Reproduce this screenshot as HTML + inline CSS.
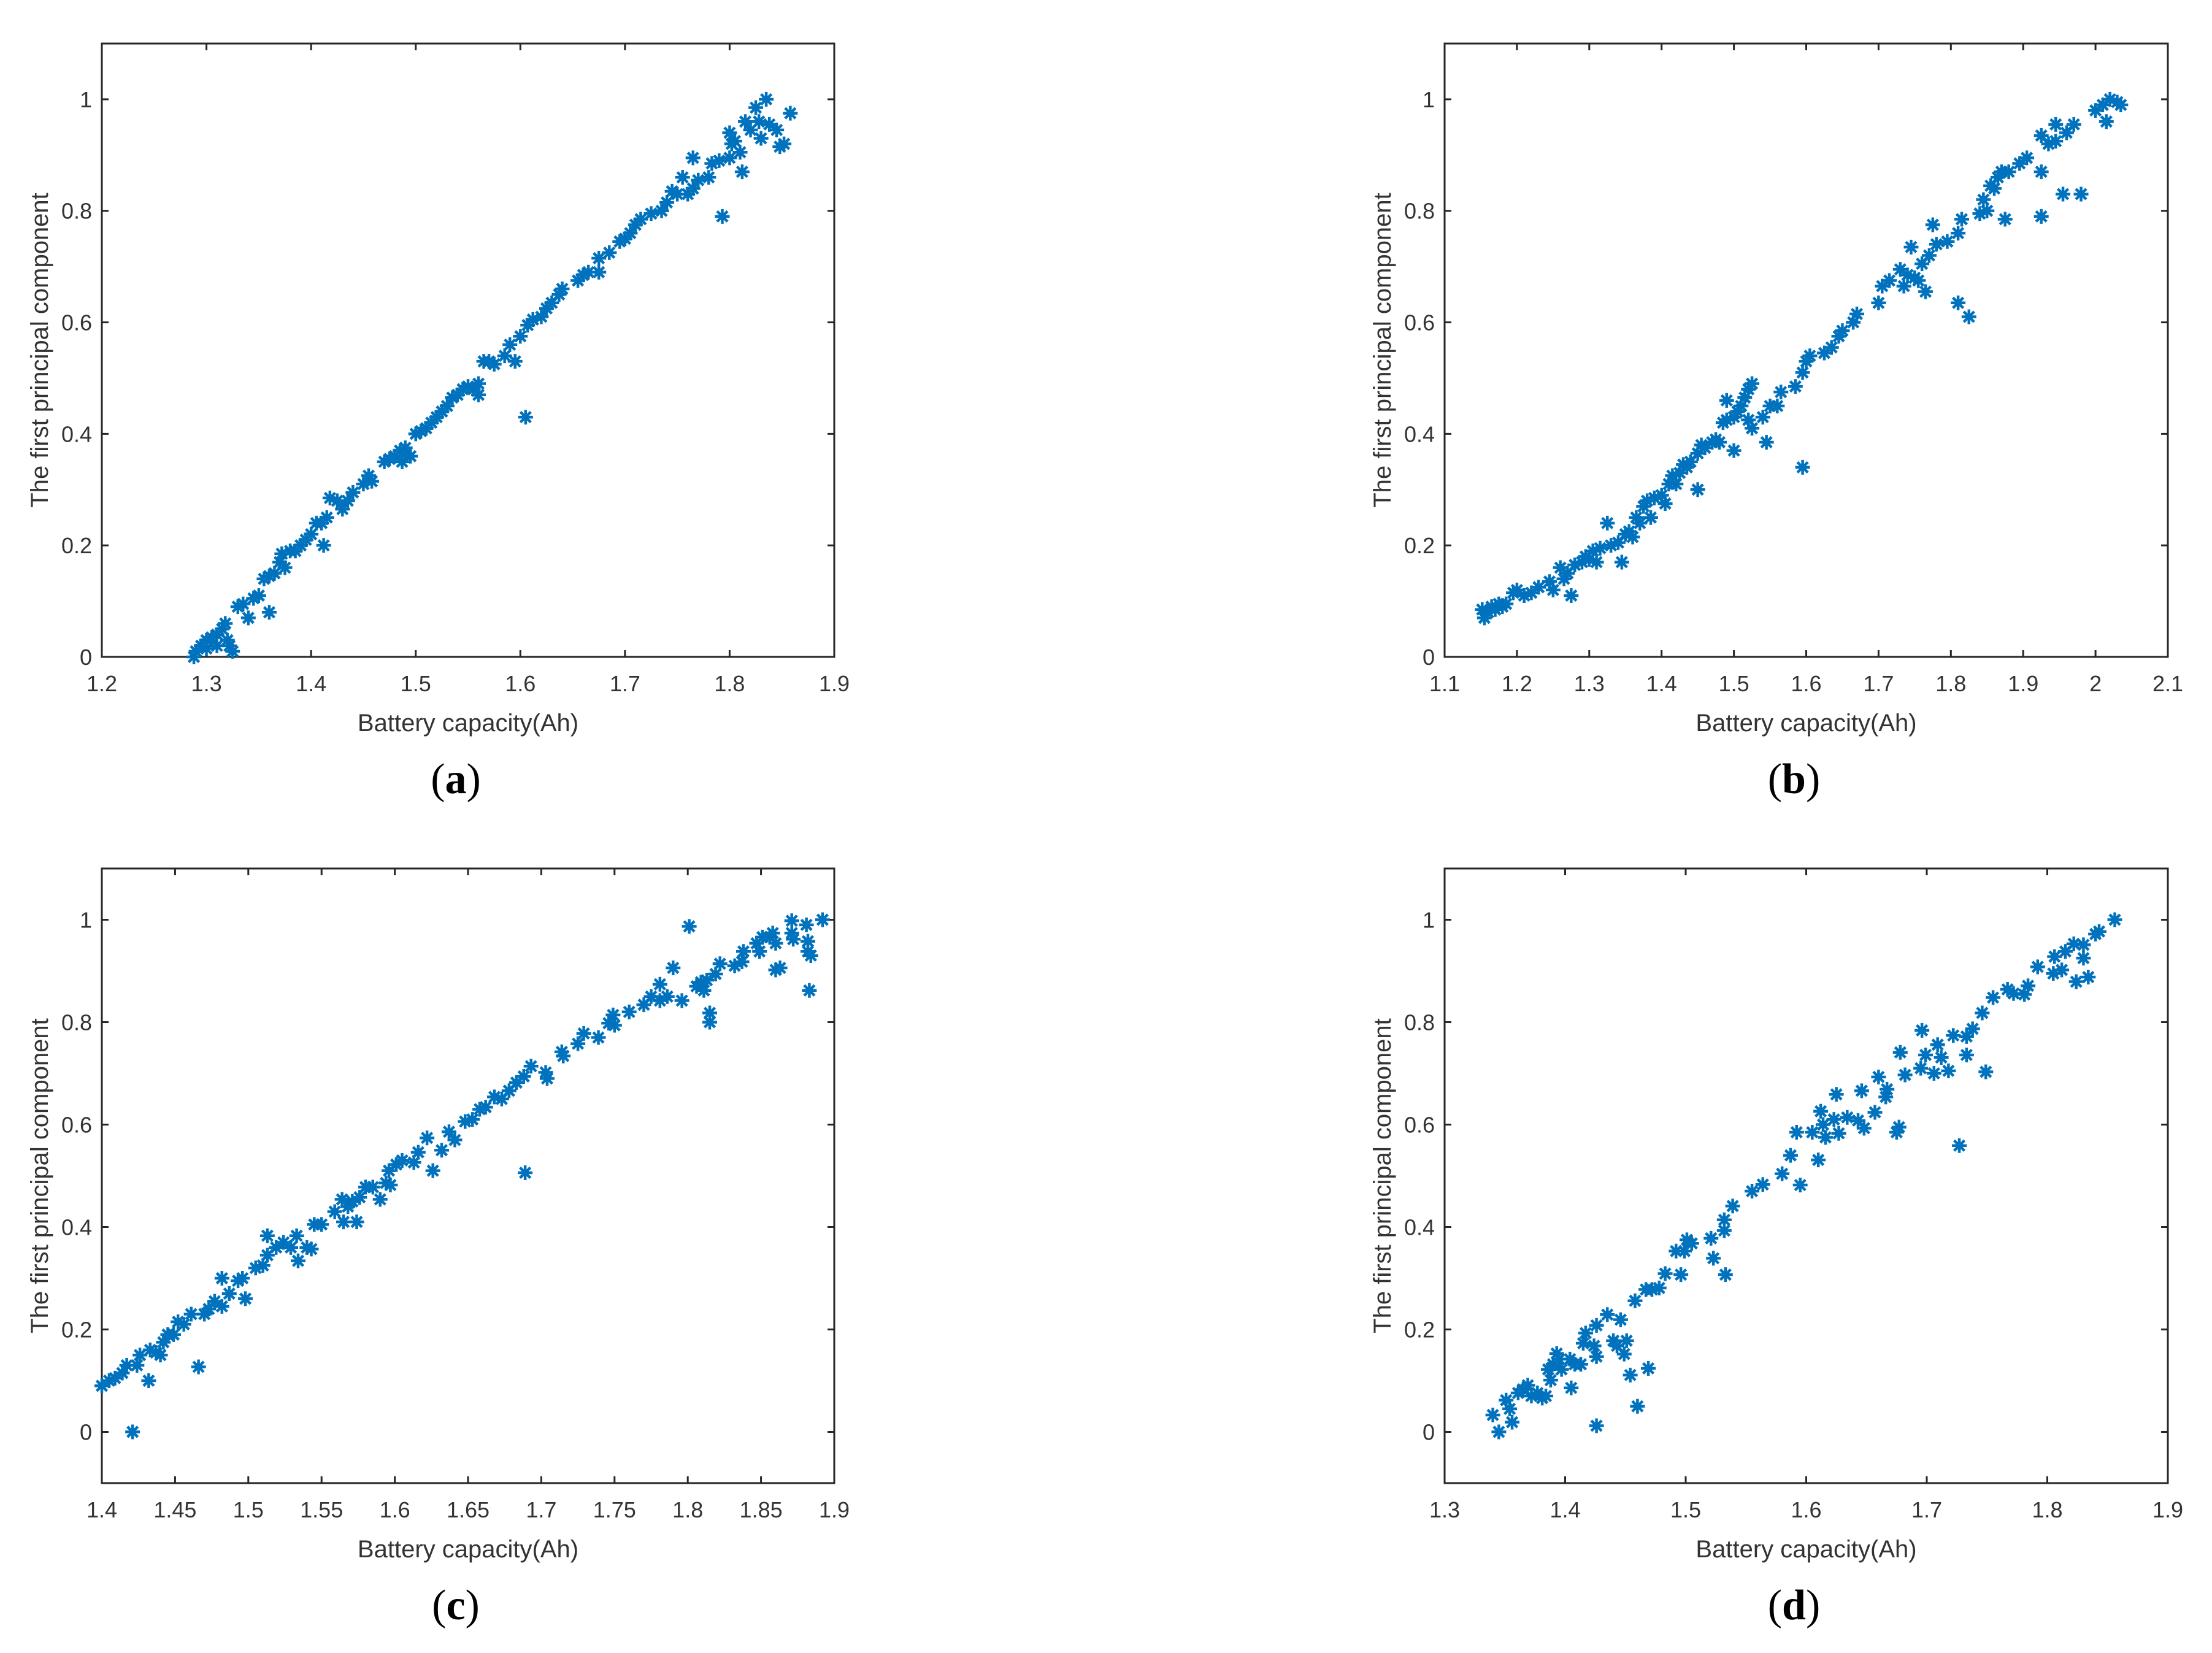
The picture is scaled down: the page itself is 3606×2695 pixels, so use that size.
<!DOCTYPE html>
<html><head><meta charset="utf-8"><style>
html,body{margin:0;padding:0;background:#fff;}
svg{display:block;}
</style></head><body>
<svg id="fig" xmlns="http://www.w3.org/2000/svg" width="3606" height="2695" viewBox="0 0 3606 2695"></svg>
<script>
// ---- panel (a) data ----
const aX=[1.288,1.29,1.295,1.30,1.305,1.31,1.315,1.318,1.32,1.322,1.325,1.31,1.30,1.33,1.335,1.34,1.345,1.35,1.355,1.36,1.36,1.365,1.37,1.372,1.375,1.38,1.385,1.39,1.395,1.40,1.405,1.41,1.412,1.415,1.418,1.425,1.43,1.435,1.44,1.45,1.455,1.458,1.47,1.475,1.48,1.485,1.487,1.49,1.495,1.50,1.505,1.51,1.515,1.52,1.525,1.53,1.535,1.54,1.545,1.55,1.555,1.56,1.56,1.565,1.57,1.575,1.585,1.59,1.595,1.60,1.605,1.607,1.612,1.62,1.625,1.63,1.637,1.64,1.655,1.66,1.665,1.675,1.675,1.685,1.695,1.70,1.705,1.71,1.715,1.725,1.735,1.74,1.745,1.75,1.755,1.76,1.765,1.765,1.77,1.78,1.783,1.79,1.793,1.80,1.80,1.802,1.805,1.81,1.812,1.815,1.82,1.825,1.828,1.83,1.835,1.838,1.845,1.848,1.852,1.858];
const aY=[0.00,0.01,0.02,0.03,0.035,0.04,0.05,0.06,0.03,0.02,0.01,0.02,0.015,0.09,0.095,0.07,0.105,0.11,0.14,0.145,0.08,0.15,0.17,0.185,0.16,0.19,0.19,0.2,0.21,0.22,0.24,0.24,0.2,0.25,0.285,0.28,0.265,0.28,0.295,0.31,0.325,0.315,0.35,0.355,0.36,0.37,0.35,0.375,0.36,0.40,0.405,0.41,0.42,0.43,0.44,0.45,0.465,0.47,0.48,0.485,0.48,0.49,0.47,0.53,0.53,0.525,0.54,0.56,0.53,0.575,0.43,0.595,0.605,0.61,0.625,0.635,0.65,0.66,0.675,0.685,0.69,0.715,0.69,0.725,0.745,0.75,0.76,0.775,0.785,0.795,0.80,0.815,0.835,0.83,0.86,0.83,0.84,0.895,0.855,0.86,0.885,0.89,0.79,0.895,0.94,0.92,0.925,0.905,0.87,0.96,0.945,0.985,0.96,0.93,1.0,0.955,0.945,0.915,0.92,0.975];
// ---- panel (b) data ----
const bX=[1.152,1.155,1.16,1.165,1.17,1.175,1.18,1.185,1.195,1.20,1.21,1.22,1.23,1.245,1.25,1.26,1.265,1.27,1.275,1.28,1.29,1.295,1.30,1.305,1.31,1.315,1.325,1.33,1.34,1.345,1.35,1.355,1.36,1.365,1.37,1.375,1.38,1.385,1.39,1.40,1.405,1.41,1.415,1.42,1.425,1.43,1.435,1.44,1.45,1.45,1.455,1.46,1.47,1.475,1.48,1.485,1.49,1.49,1.50,1.505,1.50,1.51,1.515,1.52,1.525,1.52,1.525,1.54,1.545,1.55,1.56,1.565,1.585,1.595,1.595,1.60,1.605,1.625,1.635,1.645,1.65,1.665,1.67,1.70,1.705,1.715,1.73,1.735,1.74,1.745,1.75,1.755,1.76,1.765,1.77,1.775,1.78,1.795,1.81,1.81,1.815,1.825,1.84,1.845,1.85,1.855,1.86,1.865,1.87,1.875,1.88,1.895,1.905,1.925,1.925,1.925,1.935,1.945,1.945,1.955,1.96,1.97,1.98,2.00,2.01,2.015,2.02,2.03,2.035];
const bY=[0.085,0.07,0.08,0.09,0.085,0.095,0.09,0.095,0.115,0.12,0.11,0.115,0.125,0.135,0.12,0.16,0.14,0.15,0.11,0.165,0.17,0.18,0.175,0.19,0.17,0.195,0.24,0.20,0.205,0.17,0.22,0.225,0.215,0.25,0.24,0.27,0.28,0.25,0.285,0.29,0.275,0.31,0.325,0.31,0.33,0.345,0.34,0.35,0.365,0.30,0.38,0.375,0.385,0.39,0.385,0.42,0.425,0.46,0.43,0.44,0.37,0.45,0.465,0.48,0.49,0.425,0.41,0.43,0.385,0.45,0.45,0.475,0.485,0.51,0.34,0.53,0.54,0.545,0.555,0.575,0.585,0.60,0.615,0.635,0.665,0.675,0.695,0.665,0.685,0.735,0.68,0.675,0.705,0.655,0.72,0.775,0.74,0.745,0.635,0.76,0.785,0.61,0.795,0.82,0.80,0.845,0.84,0.86,0.87,0.785,0.87,0.885,0.895,0.935,0.87,0.79,0.92,0.925,0.955,0.83,0.94,0.955,0.83,0.98,0.99,0.96,1.0,0.995,0.99];
// ---- panel (c) data ----
const cX=[1.40,1.405,1.409,1.414,1.417,1.424,1.426,1.421,1.432,1.433,1.437,1.44,1.442,1.445,1.449,1.452,1.456,1.461,1.466,1.47,1.473,1.477,1.482,1.482,1.487,1.493,1.496,1.498,1.505,1.51,1.513,1.513,1.519,1.524,1.529,1.533,1.534,1.54,1.543,1.545,1.55,1.559,1.564,1.565,1.568,1.571,1.574,1.576,1.58,1.585,1.59,1.594,1.596,1.597,1.601,1.605,1.613,1.616,1.622,1.626,1.632,1.637,1.641,1.648,1.653,1.658,1.662,1.668,1.673,1.678,1.683,1.688,1.689,1.693,1.703,1.704,1.714,1.715,1.725,1.729,1.739,1.746,1.749,1.75,1.76,1.77,1.775,1.781,1.781,1.786,1.79,1.796,1.801,1.806,1.809,1.811,1.813,1.815,1.815,1.819,1.822,1.832,1.837,1.838,1.847,1.849,1.851,1.856,1.858,1.86,1.863,1.86,1.871,1.871,1.872,1.881,1.882,1.882,1.883,1.884,1.892];
const cY=[0.09,0.10,0.105,0.115,0.13,0.13,0.15,0.0,0.10,0.16,0.155,0.15,0.175,0.19,0.19,0.215,0.21,0.23,0.127,0.23,0.24,0.255,0.245,0.30,0.27,0.295,0.30,0.26,0.32,0.325,0.345,0.383,0.36,0.37,0.36,0.383,0.334,0.36,0.357,0.405,0.405,0.43,0.454,0.41,0.44,0.45,0.41,0.458,0.478,0.478,0.454,0.486,0.51,0.482,0.522,0.53,0.526,0.546,0.574,0.51,0.55,0.586,0.57,0.606,0.61,0.63,0.634,0.654,0.65,0.666,0.682,0.694,0.506,0.714,0.702,0.69,0.742,0.734,0.758,0.778,0.77,0.798,0.814,0.794,0.82,0.834,0.85,0.874,0.842,0.85,0.906,0.842,0.987,0.87,0.878,0.862,0.882,0.818,0.80,0.894,0.914,0.91,0.918,0.938,0.954,0.938,0.966,0.966,0.974,0.902,0.906,0.954,0.974,0.998,0.962,0.99,0.958,0.938,0.862,0.93,1.0];
// ---- panel (d) data ----
const dX=[1.340,1.345,1.351,1.354,1.356,1.361,1.365,1.369,1.372,1.377,1.381,1.384,1.388,1.386,1.390,1.393,1.395,1.397,1.404,1.405,1.408,1.413,1.415,1.417,1.424,1.426,1.426,1.426,1.435,1.440,1.443,1.446,1.449,1.451,1.454,1.460,1.469,1.458,1.467,1.472,1.478,1.483,1.496,1.492,1.499,1.501,1.505,1.521,1.523,1.533,1.532,1.532,1.539,1.555,1.564,1.580,1.587,1.595,1.592,1.605,1.610,1.612,1.614,1.616,1.623,1.625,1.627,1.634,1.643,1.646,1.648,1.657,1.660,1.666,1.667,1.675,1.677,1.678,1.682,1.695,1.696,1.699,1.706,1.709,1.712,1.718,1.722,1.727,1.733,1.733,1.738,1.746,1.749,1.755,1.767,1.772,1.781,1.784,1.792,1.805,1.806,1.812,1.815,1.822,1.824,1.830,1.830,1.834,1.840,1.843,1.856];
const dY=[0.033,0.0,0.062,0.045,0.019,0.076,0.083,0.091,0.070,0.076,0.066,0.070,0.101,0.122,0.132,0.153,0.142,0.122,0.142,0.086,0.132,0.132,0.173,0.193,0.168,0.012,0.208,0.147,0.229,0.178,0.168,0.219,0.152,0.178,0.111,0.050,0.124,0.256,0.278,0.278,0.281,0.309,0.307,0.353,0.353,0.375,0.368,0.378,0.339,0.307,0.393,0.414,0.441,0.470,0.483,0.504,0.540,0.482,0.585,0.585,0.531,0.626,0.600,0.575,0.610,0.659,0.583,0.614,0.608,0.666,0.593,0.624,0.693,0.654,0.669,0.585,0.595,0.741,0.697,0.710,0.784,0.736,0.700,0.756,0.731,0.705,0.774,0.559,0.772,0.736,0.787,0.818,0.703,0.848,0.864,0.856,0.854,0.871,0.908,0.895,0.928,0.902,0.938,0.953,0.879,0.951,0.925,0.888,0.972,0.977,1.0];
// ---- axis ticks ----
const aXTicks=[1.2,1.3,1.4,1.5,1.6,1.7,1.8,1.9];
const aXLabels=["1.2","1.3","1.4","1.5","1.6","1.7","1.8","1.9"];
const bXTicks=[1.1,1.2,1.3,1.4,1.5,1.6,1.7,1.8,1.9,2.0,2.1];
const bXLabels=["1.1","1.2","1.3","1.4","1.5","1.6","1.7","1.8","1.9","2","2.1"];
const cXTicks=[1.4,1.45,1.5,1.55,1.6,1.65,1.7,1.75,1.8,1.85,1.9];
const cXLabels=["1.4","1.45","1.5","1.55","1.6","1.65","1.7","1.75","1.8","1.85","1.9"];
const dXTicks=[1.3,1.4,1.5,1.6,1.7,1.8,1.9];
const dXLabels=["1.3","1.4","1.5","1.6","1.7","1.8","1.9"];
const yTicks=[0,0.2,0.4,0.6,0.8,1];
const yLabels=["0","0.2","0.4","0.6","0.8","1"];

const NS="http://www.w3.org/2000/svg";
const svg=document.getElementById('fig');
function mk(tag,attrs,parent){const e=document.createElementNS(NS,tag);for(const k in attrs)e.setAttribute(k,attrs[k]);(parent||svg).appendChild(e);return e;}

function panel(id,L,R,T,B,xmin,xmax,ymin,ymax,xs,ys,xt,xl,letter){
  const g=mk('g',{});
  
  
  const sx=v=>L+(v-xmin)/(xmax-xmin)*(R-L);
  const sy=v=>B-(v-ymin)/(ymax-ymin)*(B-T);
  const frame=mk('rect',{x:L,y:T,width:R-L,height:B-T,fill:'none',stroke:'#262626','stroke-width':3},g);
  
  
  xt.forEach((v,i)=>{
    const x=sx(v);
    mk('line',{x1:x,y1:B,x2:x,y2:B-11,stroke:'#262626','stroke-width':3},g);
    mk('line',{x1:x,y1:T,x2:x,y2:T+11,stroke:'#262626','stroke-width':3},g);
    const t=mk('text',{x:x,y:B+56,'text-anchor':'middle','font-family':'Liberation Sans, sans-serif','font-size':36,fill:'#333'},g);
    t.textContent=xl[i];
    
    
  });
  yTicks.forEach((v,i)=>{
    const y=sy(v);
    mk('line',{x1:L,y1:y,x2:L+11,y2:y,stroke:'#262626','stroke-width':3},g);
    mk('line',{x1:R,y1:y,x2:R-11,y2:y,stroke:'#262626','stroke-width':3},g);
    const t=mk('text',{x:L-16,y:y+13,'text-anchor':'end','font-family':'Liberation Sans, sans-serif','font-size':36,fill:'#333'},g);
    t.textContent=yLabels[i];
    
    
  });
  const xt2=mk('text',{x:(L+R)/2,y:B+121,'text-anchor':'middle','font-family':'Liberation Sans, sans-serif','font-size':40,fill:'#333'},g);
  xt2.textContent='Battery capacity(Ah)';
  
  
  const cy=(T+B)/2, cx=L-88;
  const yt=mk('text',{x:cx,y:cy,'text-anchor':'middle','font-family':'Liberation Sans, sans-serif','font-size':40,fill:'#333',transform:'rotate(-90 '+cx+' '+cy+')'},g);
  yt.textContent='The first principal component';
  
  
  const pl=mk('text',{x:(L+R)/2-20,y:B+222,'text-anchor':'middle','font-family':'Liberation Serif, serif','font-size':70,fill:'#000'},g);
  pl.innerHTML='(<tspan font-weight="bold">'+letter+'</tspan>)';
  
  
  const pts=mk('g',{stroke:'#0072BD','stroke-width':4.5,'stroke-linecap':'butt'},g);
  
  
  for(let i=0;i<xs.length;i++){
    const x=sx(xs[i]),y=sy(ys[i]),r=12,d=8.5;
    const p=mk('path',{d:`M${x-r} ${y}H${x+r}M${x} ${y-r}V${y+r}M${x-d} ${y-d}L${x+d} ${y+d}M${x-d} ${y+d}L${x+d} ${y-d}`},pts);
    
    
  }
}
panel('a',166,1360,71,1071,1.2,1.9,0,1.1,aX,aY,aXTicks,aXLabels,'a');
panel('b',2355,3534,71,1071,1.1,2.1,0,1.1,bX,bY,bXTicks,bXLabels,'b');
panel('c',166,1360,1416,2418,1.4,1.9,-0.1,1.1,cX,cY,cXTicks,cXLabels,'c');
panel('d',2355,3534,1416,2418,1.3,1.9,-0.1,1.1,dX,dY,dXTicks,dXLabels,'d');
</script>
</body></html>
